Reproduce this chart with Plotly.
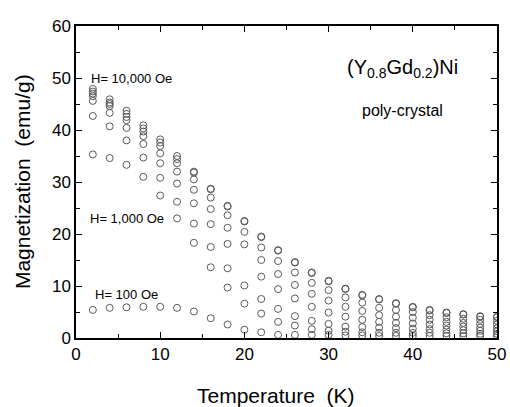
import plotly.graph_objects as go

temperature = [2, 4, 6, 8, 10, 12, 14, 16, 18, 20, 22, 24, 26, 28, 30, 32, 34, 36, 38, 40, 42, 44, 46, 48, 50]

m_s1 = [5.4, 5.8, 5.9, 6.0, 6.0, 5.8, 5.1, 3.8, 2.6, 1.6, 1.1, 0.6, 0.6, 0.6, 0.6, 0.5, 0.5, 0.4, 0.4, 0.4, 0.4, 0.4, 0.4, 0.4, 0.4]
m_s2 = [35.3, 34.6, 33.3, 31.0, 27.4, 23.0, 18.3, 13.6, 9.7, 6.6, 4.7, 3.1, 2.4, 1.7, 1.4, 1.2, 1.1, 1.0, 1.0, 1.0, 1.0, 0.9, 0.9, 0.8, 0.8]
m_s3 = [42.7, 40.7, 38.0, 34.7, 30.8, 26.2, 22.0, 17.5, 13.4, 10.1, 7.5, 5.6, 4.2, 3.3, 2.7, 2.2, 2.1, 2.0, 1.9, 1.8, 1.7, 1.6, 1.5, 1.4, 1.3]
m_s4 = [45.6, 43.3, 40.4, 37.3, 33.6, 29.7, 25.9, 21.9, 18.1, None, 11.8, 9.4, 7.6, 6.0, 4.9, 4.1, 3.5, 3.1, 2.9, 2.8, 2.6, 2.4, 2.2, 2.0, 1.9]
m_s5 = [46.5, 44.6, 41.9, 38.8, 35.5, 32.0, 28.5, 24.8, 21.2, 18.0, 15.0, 12.3, 10.2, 8.5, 7.2, 6.0, 5.2, 4.4, 4.1, 3.9, 3.5, 3.1, 2.9, 2.7, 2.6]
m_s6 = [47.0, 45.0, 42.5, 39.7, 36.9, 33.6, 30.5, 27.0, 23.6, 20.4, 17.4, 14.8, 12.6, 10.6, 9.2, 7.8, 6.8, 5.8, 5.4, 5.0, 4.4, 4.0, 3.7, 3.5, 3.3]
m_s7 = [47.4, 45.3, 43.1, 40.3, 37.6, 34.4, 31.8, 28.6, 25.3, 22.4, 19.4, 16.8, 14.5, 12.5, 10.9, 9.4, 8.2, 7.4, 6.6, 5.9, 5.3, 4.8, 4.5, 4.1, 4.0]
m_s8 = [47.9, 45.9, 43.7, 40.9, 38.2, 35.0, 32.0, 28.7, 25.4, 22.5, 19.5, 16.9, 14.6, 12.6, 11.0, 9.5, 8.3, 7.5, 6.7, 6.0, 5.4, 4.9, 4.6, 4.2, 4.1]

series = [m_s1, m_s2, m_s3, m_s4, m_s5, m_s6, m_s7, m_s8]

x_ticks = [0, 10, 20, 30, 40, 50]
y_ticks = [0, 10, 20, 30, 40, 50, 60]

FONT = "Liberation Sans, Arial, sans-serif"
NB = "\u00a0"

fig = go.Figure()
for s in series:
    fig.add_trace(go.Scatter(
        x=temperature, y=s, mode="markers",
        marker=dict(symbol="circle-open", size=7, color="#5a5a5a", line=dict(width=1)),
        showlegend=False,
    ))

axis_common = dict(
    showline=True, linecolor="black", linewidth=1.5, mirror="ticks",
    ticks="inside", ticklen=6, tickwidth=1, tickcolor="black",
    showgrid=False, zeroline=False, automargin=False,
    tickfont=dict(family=FONT, size=17, color="black"),
    minor=dict(ticks="inside", ticklen=4, tickwidth=1, tickcolor="black", dtick=5, showgrid=False),
)

fig.update_xaxes(range=[0, 50], tickvals=x_ticks, **axis_common)
fig.update_yaxes(range=[0, 60], tickvals=y_ticks, **axis_common)

fig.add_annotation(xref="paper", yref="paper", x=0.474, y=-0.183,
                   text="Temperature" + NB + NB + "(K)", showarrow=False,
                   xanchor="center", yanchor="middle",
                   font=dict(family=FONT, size=21, color="black"))
fig.add_annotation(xref="paper", yref="paper", x=-0.128, y=0.5,
                   text="Magnetization" + NB + NB + "(emu/g)", showarrow=False, textangle=-90,
                   xanchor="center", yanchor="middle",
                   font=dict(family=FONT, size=21, color="black"))

fig.add_annotation(x=1.5, y=50, text="H=" + NB + "10,000" + NB + "Oe", showarrow=False, xanchor="left", yanchor="middle",
                   font=dict(family=FONT, size=13, color="black"))
fig.add_annotation(x=1.4, y=23, text="H=" + NB + "1,000" + NB + "Oe", showarrow=False, xanchor="left", yanchor="middle",
                   font=dict(family=FONT, size=13, color="black"))
fig.add_annotation(x=2.0, y=8.3, text="H=" + NB + "100" + NB + "Oe", showarrow=False, xanchor="left", yanchor="middle",
                   font=dict(family=FONT, size=13, color="black"))
fig.add_annotation(x=38.8, y=51.8, text="(Y<sub>0.8</sub>Gd<sub>0.2</sub>)Ni", showarrow=False,
                   xanchor="center", yanchor="middle", font=dict(family=FONT, size=20, color="black"))
fig.add_annotation(x=38.8, y=43.8, text="poly-crystal", showarrow=False,
                   xanchor="center", yanchor="middle", font=dict(family=FONT, size=16, color="black"))

fig.update_layout(
    width=510, height=407,
    margin=dict(l=76, r=13, t=26, b=69),
    plot_bgcolor="white", paper_bgcolor="white",
)

fig.write_html("out.html")
